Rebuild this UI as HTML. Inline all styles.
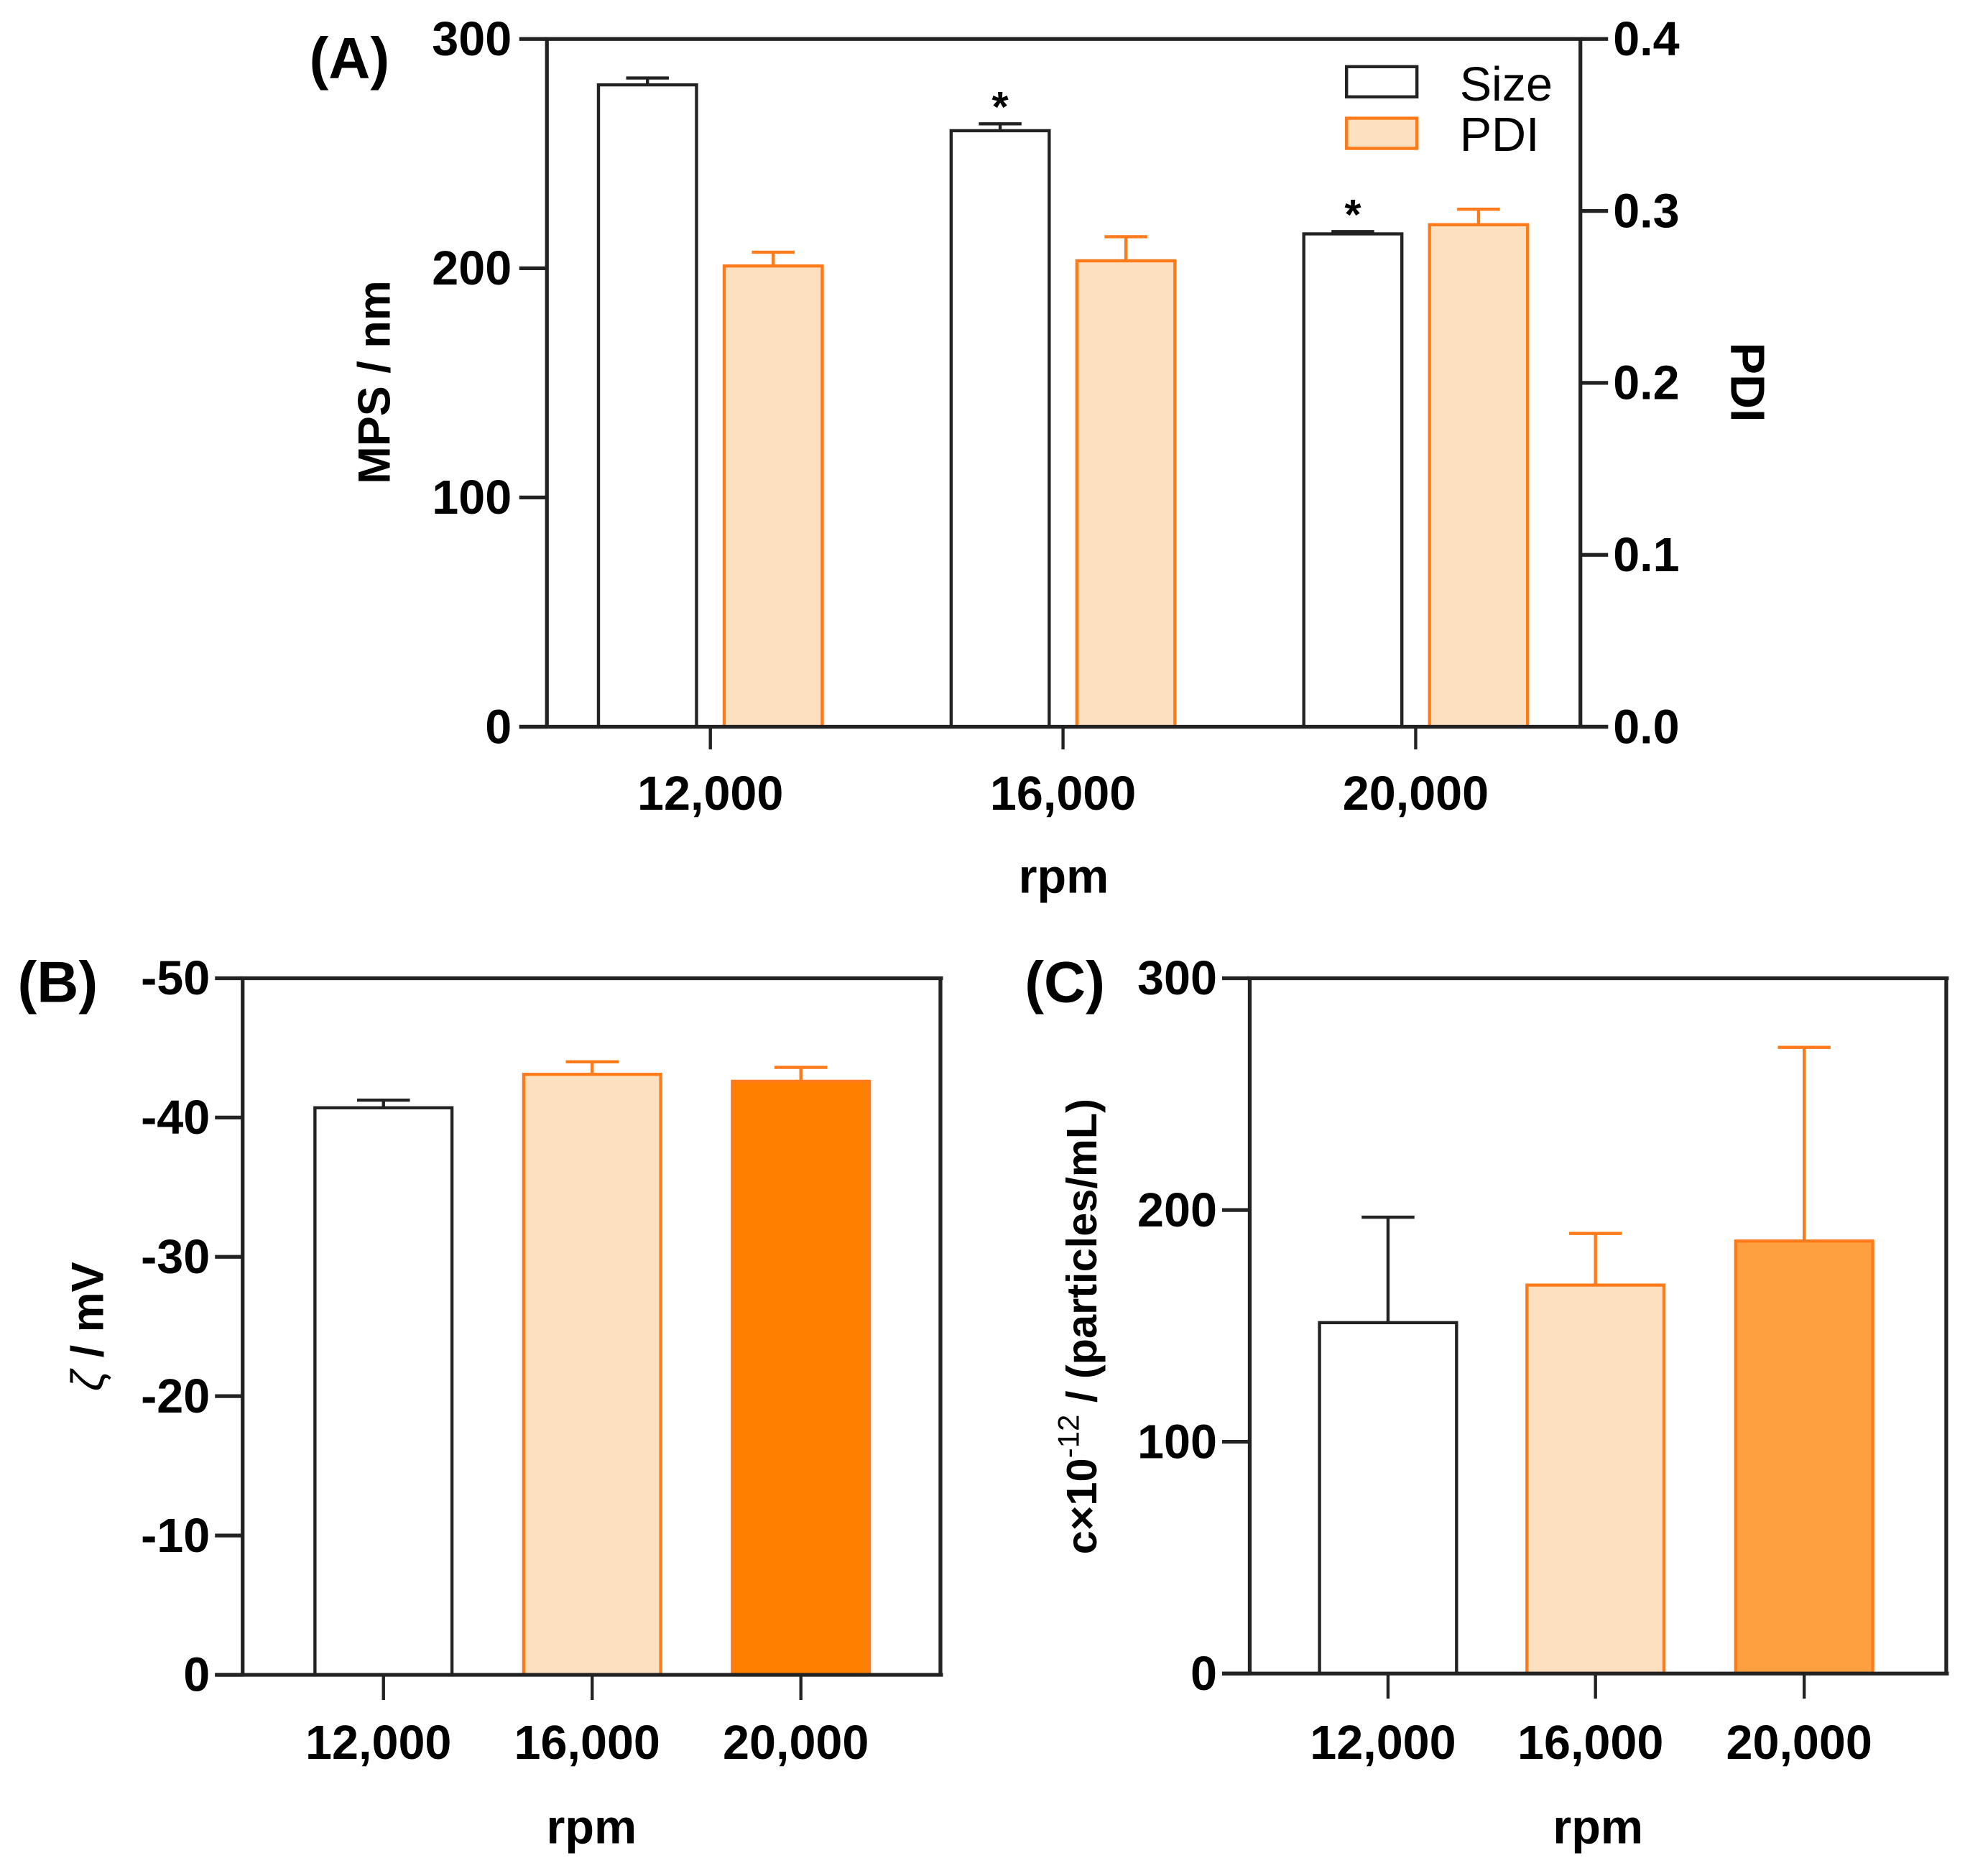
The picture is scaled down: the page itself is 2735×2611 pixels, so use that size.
<!DOCTYPE html>
<html><head><meta charset="utf-8"><style>
html,body{margin:0;padding:0;background:#fff}
svg{display:block}
text{font-family:"Liberation Sans",Arial,sans-serif}
</style></head><body>
<svg id="fig" width="2735" height="2611" viewBox="0 0 1562.9 1492" xmlns="http://www.w3.org/2000/svg"></svg>
<script>
// ---- data ----
const categories = ["12,000","16,000","20,000"];
const sizeValues = [280, 260, 215];
const sizeErrors = [3, 3, 1];
const pdiValues = [0.268, 0.271, 0.292];
const pdiErrors = [0.008, 0.014, 0.009];
const sizeStars = ["", "*", "*"];
const leftTicksA = [0, 100, 200, 300];
const rightTicksA = [0.0, 0.1, 0.2, 0.3, 0.4];
const zetaValues = [40.7, 43.1, 42.6];
const zetaErrors = [0.55, 0.9, 1.0];
const zetaTicks = [0, -10, -20, -30, -40, -50];
const concValues = [151.4, 167.6, 186.6];
const concErrors = [45.5, 22.3, 83.6];
const concTicks = [0, 100, 200, 300];

const NS="http://www.w3.org/2000/svg";
const svg=document.getElementById('fig');
function mk(tag,attrs,parent){const e=document.createElementNS(NS,tag);for(const k in attrs)e.setAttribute(k,attrs[k]);(parent||svg).appendChild(e);return e;}
function txt(s,attrs,parent){const e=mk('text',attrs,parent);e.textContent=s;return e;}
function lin(a,b,d){return v=>b[0]+(v-a[0])/(a[1]-a[0])*(b[1]-b[0]);}

const BLK="#222", ORG="#ff7a1a", PEACH="#fde0c0", ORG2="#ff8000", ORG3="#ffa040";
const TF=38;

// ---------- Panel A ----------
(function(){
  const g=mk('g',{});
  
  
  const L=435,R=1257,T=31,B=578;
  const yL=lin([0,300],[B,T]), yR=lin([0,0.4],[B,T]);
  const x0=565, step=280.5, bw=78, gap=22;
  categories.forEach((c,i)=>{
    const cx=x0+step*i;
    const sx=cx-gap/2-bw, px=cx+gap/2;
    const sy=yL(sizeValues[i]), se=yL(sizeValues[i]+sizeErrors[i]);
    let r=mk('rect',{x:sx,y:sy,width:bw,height:B-sy,fill:'#fff',stroke:BLK,'stroke-width':2.5},g);
    
    
    mk('line',{x1:sx+bw/2,x2:sx+bw/2,y1:sy,y2:se,stroke:BLK,'stroke-width':2.5},g);
    mk('line',{x1:sx+bw/2-17,x2:sx+bw/2+17,y1:se,y2:se,stroke:BLK,'stroke-width':2.5},g);
    if(sizeStars[i]){const s=txt(sizeStars[i],{x:sx+bw/2,y:se-2,'font-size':34,'font-weight':'bold','text-anchor':'middle'},g);
      }
    const py=yR(pdiValues[i]), pe=yR(pdiValues[i]+pdiErrors[i]);
    r=mk('rect',{x:px,y:py,width:bw,height:B-py,fill:PEACH,stroke:ORG,'stroke-width':2.5},g);
    
    
    mk('line',{x1:px+bw/2,x2:px+bw/2,y1:py,y2:pe,stroke:ORG,'stroke-width':2.5},g);
    mk('line',{x1:px+bw/2-17,x2:px+bw/2+17,y1:pe,y2:pe,stroke:ORG,'stroke-width':2.5},g);
    mk('line',{x1:cx,x2:cx,y1:B,y2:B+18,stroke:BLK,'stroke-width':2.5},g);
    const t=txt(c,{x:cx,y:644,'font-size':TF,'font-weight':'bold','text-anchor':'middle'},g);
    
  });
  mk('line',{x1:L-2,x2:R+2,y1:T,y2:T,stroke:BLK,'stroke-width':3},g);
  mk('line',{x1:L-22,x2:R+22,y1:B,y2:B,stroke:BLK,'stroke-width':3},g);
  mk('line',{x1:L,x2:L,y1:T,y2:B,stroke:BLK,'stroke-width':3},g);
  mk('line',{x1:R,x2:R,y1:T,y2:B,stroke:BLK,'stroke-width':3},g);
  leftTicksA.forEach(v=>{const y=yL(v);mk('line',{x1:L-22,x2:L,y1:y,y2:y,stroke:BLK,'stroke-width':3},g);
    const t=txt(String(v),{x:L-28,y:y+13,'font-size':TF,'font-weight':'bold','text-anchor':'end'},g);
    });
  rightTicksA.forEach(v=>{const y=yR(v);mk('line',{x1:R,x2:R+22,y1:y,y2:y,stroke:BLK,'stroke-width':3},g);
    const t=txt(v.toFixed(1),{x:R+26,y:y+13,'font-size':TF,'font-weight':'bold'},g);
    });
  let t=txt('(A)',{x:246,y:62,'font-size':46,'font-weight':'bold'},g);
  
  t=txt('MPS / nm',{x:0,y:0,'font-size':36,'font-weight':'bold','text-anchor':'middle',transform:'translate(310,304) rotate(-90)'},g);
  
  t=txt('PDI',{x:0,y:0,'font-size':38,'font-weight':'bold','text-anchor':'middle',transform:'translate(1377,304) rotate(90)'},g);
  
  t=txt('rpm',{x:846,y:710,'font-size':38,'font-weight':'bold','text-anchor':'middle'},g);
  
  let r=mk('rect',{x:1071,y:53,width:56,height:24,fill:'#fff',stroke:BLK,'stroke-width':2.5},g);
  
  r=mk('rect',{x:1071,y:94,width:56,height:24,fill:PEACH,stroke:ORG,'stroke-width':2.5},g);
  
  t=txt('Size',{x:1161,y:80,'font-size':38},g);
  t=txt('PDI',{x:1161,y:120,'font-size':38},g);
})();

// ---------- Panels B and C ----------
function smallPanel(opts){
  const g=mk('g',{});
  
  
  const {L,R,T,B,dom,vals,errs,ticks,xs,fills,strokes,label,lx}=opts;
  const y=lin(dom,[B,T]); const bw=109;
  categories.forEach((c,i)=>{
    const cx=xs[i], x=cx-bw/2, yt=y(opts.sign*vals[i]), ye=y(opts.sign*(vals[i]+errs[i]));
    const r=mk('rect',{x:x,y:yt,width:bw,height:B-yt,fill:fills[i],stroke:strokes[i],'stroke-width':2.5},g);
    
    
    mk('line',{x1:cx,x2:cx,y1:yt,y2:ye,stroke:strokes[i],'stroke-width':2.5},g);
    mk('line',{x1:cx-21,x2:cx+21,y1:ye,y2:ye,stroke:strokes[i],'stroke-width':2.5},g);
    mk('line',{x1:cx,x2:cx,y1:B,y2:B+20,stroke:BLK,'stroke-width':2.5},g);
    const t=txt(c,{x:cx-4,y:1399,'font-size':TF,'font-weight':'bold','text-anchor':'middle'},g);
    
  });
  mk('line',{x1:L-2,x2:R+2,y1:T,y2:T,stroke:BLK,'stroke-width':3},g);
  mk('line',{x1:L-22,x2:R+2,y1:B,y2:B,stroke:BLK,'stroke-width':3},g);
  mk('line',{x1:L,x2:L,y1:T,y2:B,stroke:BLK,'stroke-width':3},g);
  mk('line',{x1:R,x2:R,y1:T,y2:B,stroke:BLK,'stroke-width':3},g);
  ticks.forEach(v=>{const yy=y(v);mk('line',{x1:L-22,x2:L,y1:yy,y2:yy,stroke:BLK,'stroke-width':3},g);
    const t=txt(String(v),{x:L-26,y:yy+13,'font-size':TF,'font-weight':'bold','text-anchor':'end'},g);
    });
  let t=txt(label,{x:lx,y:797,'font-size':46,'font-weight':'bold'},g);
  
  t=txt('rpm',{x:(L+R)/2,y:1466,'font-size':38,'font-weight':'bold','text-anchor':'middle'},g);
  
  return {g,y};
}
(function(){
  const p=smallPanel({name:'panel-b',L:193,R:748,T:778,B:1332,dom:[0,-50],sign:-1,vals:zetaValues,errs:zetaErrors,ticks:zetaTicks,
    xs:[305,471,637],fills:['#fff',PEACH,ORG2],strokes:[BLK,ORG,ORG],label:'(B)',lx:14});
  const t=txt('',{x:0,y:0,'font-size':36,'font-weight':'bold','text-anchor':'middle',transform:'translate(82,1055) rotate(-90)'},p.g);
  const a=mk('tspan',{'font-weight':'normal','font-style':'italic'},t);a.textContent='ζ';
  const b=mk('tspan',{},t);b.textContent=' / mV';
  
})();
(function(){
  const p=smallPanel({name:'panel-c',L:994,R:1548,T:778,B:1331,dom:[0,300],sign:1,vals:concValues,errs:concErrors,ticks:concTicks,
    xs:[1104,1269,1435],fills:['#fff',PEACH,ORG3],strokes:[BLK,ORG,ORG],label:'(C)',lx:815});
  const t=txt('',{x:0,y:0,'font-size':34,'font-weight':'bold','text-anchor':'middle',transform:'translate(872,1055) rotate(-90)'},p.g);
  const a=mk('tspan',{},t);a.textContent='c×10';
  const b=mk('tspan',{dy:-14,'font-size':24,'font-weight':'normal'},t);b.textContent='-12';
  const c=mk('tspan',{dy:14},t);c.textContent=' / (particles/mL)';
  
})();
</script>
</body></html>
